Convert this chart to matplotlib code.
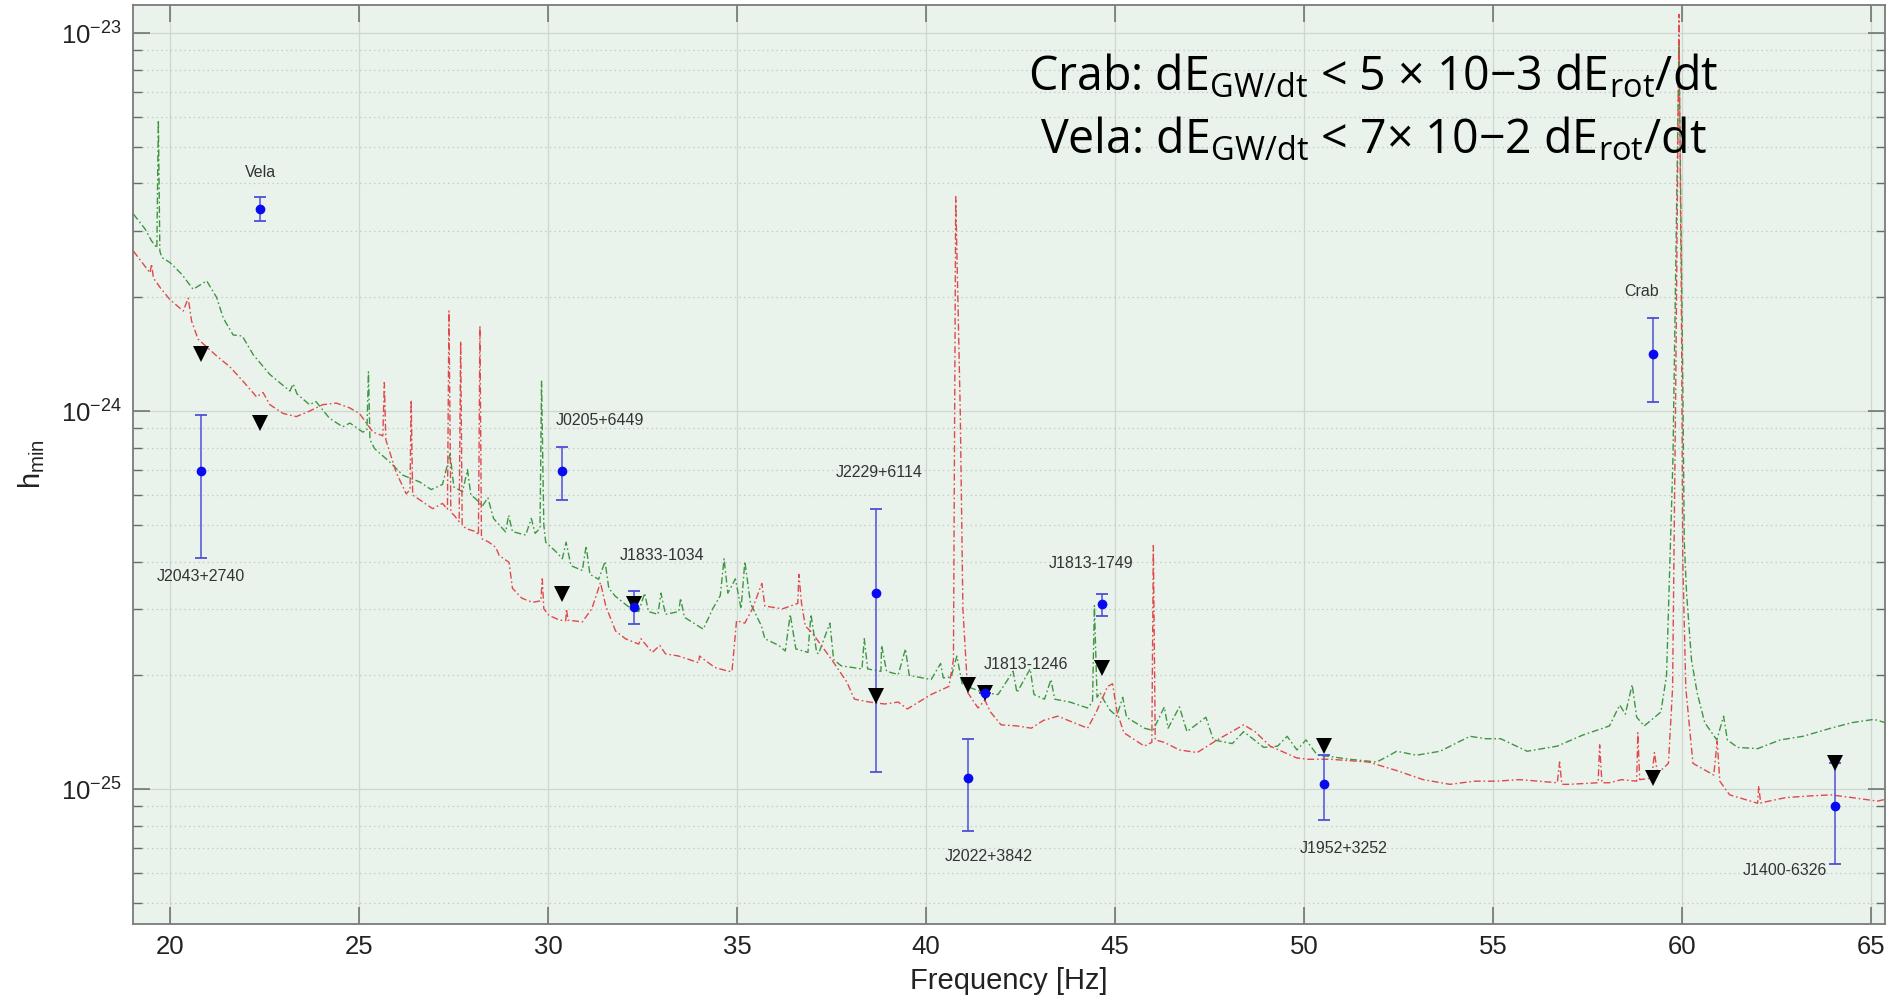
import numpy as np
import matplotlib
matplotlib.use("Agg")
import matplotlib.pyplot as plt
from matplotlib.ticker import LogLocator, FixedLocator, FuncFormatter, NullFormatter

# ---------------------------------------------------------------- data
# Sensitivity curve, detector A (green)
green_f = [19.02, 19.33, 19.50, 19.64, 19.68, 19.72, 19.77, 19.99, 20.30, 20.60,
           20.96, 21.22, 21.40, 21.66, 21.90, 22.19, 22.63, 23.16, 23.25, 23.35,
           23.68, 23.85, 24.21, 24.56, 24.75, 25.09, 25.20, 25.24, 25.28, 25.40,
           25.80, 26.15, 26.59, 26.90, 27.20, 27.40, 27.50, 27.73, 27.86, 27.95,
           28.08, 28.25, 28.40, 28.55, 28.87, 28.95, 29.05, 29.40, 29.55, 29.65,
           29.78, 29.82, 29.88, 29.93, 30.20, 30.37, 30.47, 30.60, 30.90, 31.00,
           31.10, 31.33, 31.50, 31.60, 31.77, 32.10, 32.39, 32.55, 32.65, 32.90,
           32.98, 33.10, 33.45, 33.50, 33.60, 34.10, 34.35, 34.55, 34.65, 34.75,
           34.95, 35.10, 35.20, 35.35, 35.64, 35.73, 36.10, 36.27, 36.40, 36.55,
           36.87, 36.95, 37.10, 37.15, 37.45, 37.55, 37.75, 38.30, 38.36, 38.45,
           38.80, 38.82, 38.95, 39.26, 39.45, 39.55, 40.13, 40.38, 40.45, 40.66,
           40.81, 40.95, 41.20, 41.53, 41.90, 42.30, 42.40, 42.75, 42.85, 43.13,
           43.30, 43.40, 43.80, 44.27, 44.40, 44.45, 44.52, 44.60, 44.70, 44.86,
           45.04, 45.20, 45.30, 45.77, 46.00, 46.30, 46.40, 46.70, 46.90, 47.40,
           47.60, 48.10, 48.40, 48.93, 49.30, 49.55, 49.81, 50.05, 50.35, 50.68,
           51.20, 51.92, 52.20, 52.45, 52.97, 53.60, 54.00, 54.39, 54.80, 55.20,
           55.90, 56.70, 57.37, 58.08, 58.35, 58.50, 58.68, 58.80, 59.00, 59.44,
           59.59, 59.76, 59.92, 60.02, 60.06, 60.12, 60.25, 60.40, 60.60, 60.92,
           61.10, 61.20, 61.47, 62.00, 62.60, 63.20, 63.94, 64.50, 65.08, 65.38]
green_h = [3.32e-24, 3.03e-24, 2.82e-24, 2.70e-24, 5.88e-24, 2.65e-24, 2.55e-24, 2.47e-24, 2.30e-24, 2.10e-24,
           2.21e-24, 2.00e-24, 1.76e-24, 1.59e-24, 1.58e-24, 1.41e-24, 1.25e-24, 1.13e-24, 1.18e-24, 1.11e-24,
           1.04e-24, 1.06e-24, 9.57e-25, 9.09e-25, 9.30e-25, 8.80e-25, 8.90e-25, 1.27e-24, 8.40e-25, 7.96e-25,
           7.34e-25, 6.77e-25, 6.50e-25, 6.20e-25, 6.40e-25, 7.70e-25, 6.30e-25, 6.12e-25, 7.00e-25, 6.00e-25,
           5.86e-25, 5.60e-25, 5.90e-25, 5.20e-25, 4.79e-25, 5.30e-25, 4.80e-25, 4.70e-25, 5.20e-25, 4.75e-25,
           4.90e-25, 1.20e-24, 5.00e-25, 4.50e-25, 4.25e-25, 4.07e-25, 4.50e-25, 3.90e-25, 3.79e-25, 4.40e-25,
           3.70e-25, 3.59e-25, 4.00e-25, 3.40e-25, 3.24e-25, 3.05e-25, 2.95e-25, 3.30e-25, 2.95e-25, 2.90e-25,
           3.30e-25, 2.90e-25, 2.95e-25, 3.20e-25, 2.85e-25, 2.65e-25, 3.00e-25, 3.25e-25, 4.07e-25, 3.30e-25,
           3.60e-25, 3.00e-25, 4.00e-25, 3.10e-25, 2.70e-25, 2.50e-25, 2.40e-25, 2.32e-25, 2.90e-25, 2.35e-25,
           2.30e-25, 2.90e-25, 2.30e-25, 2.28e-25, 2.75e-25, 2.20e-25, 2.12e-25, 2.08e-25, 2.50e-25, 2.08e-25,
           2.05e-25, 2.40e-25, 2.05e-25, 2.01e-25, 2.35e-25, 2.00e-25, 1.95e-25, 2.15e-25, 1.97e-25, 1.98e-25,
           2.25e-25, 1.90e-25, 1.85e-25, 1.80e-25, 1.78e-25, 2.05e-25, 1.80e-25, 2.08e-25, 1.78e-25, 1.73e-25,
           1.95e-25, 1.73e-25, 1.70e-25, 1.64e-25, 1.70e-25, 3.06e-25, 1.75e-25, 1.80e-25, 1.72e-25, 1.62e-25,
           1.56e-25, 1.75e-25, 1.55e-25, 1.45e-25, 1.43e-25, 1.65e-25, 1.45e-25, 1.65e-25, 1.42e-25, 1.55e-25,
           1.35e-25, 1.32e-25, 1.42e-25, 1.29e-25, 1.30e-25, 1.38e-25, 1.27e-25, 1.35e-25, 1.23e-25, 1.22e-25,
           1.20e-25, 1.18e-25, 1.22e-25, 1.26e-25, 1.23e-25, 1.26e-25, 1.32e-25, 1.38e-25, 1.36e-25, 1.36e-25,
           1.26e-25, 1.30e-25, 1.39e-25, 1.47e-25, 1.67e-25, 1.58e-25, 1.89e-25, 1.55e-25, 1.47e-25, 1.60e-25,
           2.00e-25, 7.50e-25, 9.40e-24, 1.20e-24, 4.50e-25, 3.30e-25, 2.20e-25, 1.80e-25, 1.50e-25, 1.35e-25,
           1.56e-25, 1.35e-25, 1.29e-25, 1.28e-25, 1.35e-25, 1.38e-25, 1.45e-25, 1.50e-25, 1.53e-25, 1.50e-25]

# Sensitivity curve, detector B (red)
red_f = [19.02, 19.46, 19.50, 19.55, 19.73, 19.99, 20.34, 20.47, 20.56, 20.73,
         21.22, 21.57, 21.92, 22.28, 22.45, 22.63, 22.98, 23.33, 23.68, 24.03,
         24.39, 24.74, 25.00, 25.36, 25.62, 25.66, 25.70, 25.97, 26.24, 26.34,
         26.37, 26.41, 26.68, 26.94, 27.20, 27.33, 27.37, 27.42, 27.51, 27.64,
         27.68, 27.72, 27.82, 28.08, 28.15, 28.19, 28.23, 28.43, 28.61, 28.70,
         28.96, 29.05, 29.30, 29.58, 29.80, 29.84, 29.88, 30.02, 30.30, 30.46,
         30.48, 30.52, 30.90, 31.15, 31.38, 31.52, 31.78, 32.04, 32.39, 32.45,
         32.75, 32.95, 33.10, 33.45, 33.98, 34.00, 34.40, 34.77, 34.86, 34.98,
         35.20, 35.40, 35.65, 35.73, 36.20, 36.60, 36.63, 36.70, 36.80, 36.97,
         37.50, 37.90, 38.10, 38.50, 38.90, 39.26, 39.50, 39.80, 40.13, 40.60,
         40.72, 40.78, 40.90, 40.97, 41.10, 41.37, 41.55, 41.70, 41.98, 42.40,
         42.78, 43.10, 43.48, 43.90, 44.27, 44.50, 44.80, 44.93, 45.05, 45.23,
         45.77, 45.97, 46.01, 46.06, 46.30, 46.70, 47.17, 47.70, 48.40, 48.70,
         49.10, 49.80, 50.10, 50.68, 51.70, 52.45, 53.15, 53.86, 54.50, 55.09,
         55.70, 56.70, 56.76, 56.82, 57.00, 57.78, 57.82, 57.88, 58.08, 58.40,
         58.80, 58.83, 58.88, 59.20, 59.27, 59.35, 59.64, 59.75, 59.83, 59.92,
         59.99, 60.02, 60.10, 60.29, 60.84, 60.93, 61.00, 61.26, 62.00, 62.03,
         62.08, 62.74, 63.40, 63.94, 64.50, 65.17, 65.38]
red_h = [2.65e-24, 2.32e-24, 2.45e-24, 2.25e-24, 2.12e-24, 1.97e-24, 1.84e-24, 1.99e-24, 1.73e-24, 1.55e-24,
         1.40e-24, 1.31e-24, 1.20e-24, 1.09e-24, 1.12e-24, 1.04e-24, 9.86e-25, 9.67e-25, 1.00e-24, 1.04e-24,
         1.05e-24, 1.02e-24, 9.86e-25, 8.80e-25, 8.60e-25, 1.19e-24, 8.40e-25, 6.90e-25, 6.04e-25, 6.20e-25,
         1.07e-24, 6.00e-25, 5.75e-25, 5.52e-25, 5.70e-25, 5.50e-25, 1.84e-24, 5.40e-25, 5.30e-25, 5.10e-25,
         1.53e-24, 5.00e-25, 4.89e-25, 4.80e-25, 4.70e-25, 1.68e-24, 4.60e-25, 4.50e-25, 4.36e-25, 4.15e-25,
         3.98e-25, 3.40e-25, 3.20e-25, 3.12e-25, 3.15e-25, 3.60e-25, 3.00e-25, 2.88e-25, 2.80e-25, 2.79e-25,
         3.00e-25, 2.80e-25, 2.77e-25, 3.00e-25, 3.52e-25, 3.05e-25, 2.62e-25, 2.50e-25, 2.42e-25, 2.50e-25,
         2.30e-25, 2.40e-25, 2.28e-25, 2.25e-25, 2.16e-25, 2.25e-25, 2.10e-25, 2.05e-25, 2.05e-25, 2.79e-25,
         2.75e-25, 3.00e-25, 3.50e-25, 3.05e-25, 3.00e-25, 3.10e-25, 3.70e-25, 3.10e-25, 2.70e-25, 2.60e-25,
         2.20e-25, 1.92e-25, 1.73e-25, 1.70e-25, 1.68e-25, 1.70e-25, 1.63e-25, 1.70e-25, 1.78e-25, 1.87e-25,
         2.20e-25, 3.69e-24, 1.00e-24, 3.00e-25, 1.80e-25, 1.64e-25, 1.72e-25, 1.60e-25, 1.48e-25, 1.47e-25,
         1.45e-25, 1.52e-25, 1.56e-25, 1.50e-25, 1.45e-25, 1.60e-25, 1.87e-25, 1.90e-25, 1.60e-25, 1.41e-25,
         1.30e-25, 1.33e-25, 4.41e-25, 1.35e-25, 1.33e-25, 1.27e-25, 1.25e-25, 1.35e-25, 1.48e-25, 1.42e-25,
         1.30e-25, 1.21e-25, 1.20e-25, 1.20e-25, 1.18e-25, 1.12e-25, 1.06e-25, 1.03e-25, 1.05e-25, 1.05e-25,
         1.06e-25, 1.04e-25, 1.18e-25, 1.03e-25, 1.03e-25, 1.04e-25, 1.31e-25, 1.04e-25, 1.04e-25, 1.06e-25,
         1.05e-25, 1.41e-25, 1.06e-25, 1.07e-25, 1.25e-25, 1.10e-25, 1.17e-25, 1.85e-25, 1.07e-24, 1.12e-23,
         1.50e-24, 4.00e-25, 1.85e-25, 1.17e-25, 1.09e-25, 1.34e-25, 1.05e-25, 9.66e-26, 9.18e-26, 1.02e-25,
         9.20e-26, 9.50e-26, 9.60e-26, 9.66e-26, 9.50e-26, 9.30e-26, 9.40e-26]

# Pulsars: GW frequency, measured strain with error range, and upper limit
pulsar_names = ["Vela", "J2043+2740", "J0205+6449", "J1833-1034", "J2229+6114",
                "J2022+3842", "J1813-1246", "J1813-1749", "J1952+3252", "Crab", "J1400-6326"]
pulsar_f = [22.36, 20.80, 30.37, 32.26, 38.67, 41.10, 41.56, 44.64, 50.52, 59.23, 64.06]
pulsar_h = [3.42e-24, 6.95e-25, 6.93e-25, 3.03e-25, 3.31e-25, 1.07e-25, 1.80e-25, 3.08e-25, 1.03e-25, 1.42e-24, 9.02e-26]
pulsar_h_hi = [3.69e-24, 9.75e-25, 8.04e-25, 3.34e-25, 5.52e-25, 1.36e-25, 1.80e-25, 3.29e-25, 1.23e-25, 1.76e-24, 1.17e-25]
pulsar_h_lo = [3.18e-24, 4.10e-25, 5.81e-25, 2.74e-25, 1.11e-25, 7.73e-26, 1.80e-25, 2.88e-25, 8.31e-26, 1.06e-24, 6.35e-26]
upper_limit = [9.29e-25, 1.42e-24, 3.28e-25, 3.08e-25, 1.76e-25, 1.89e-25, 1.80e-25, 2.09e-25, 1.30e-25, 1.07e-25, 1.17e-25]

# Label anchor points (frequency, strain)
label_xy = [(22.39, 4.28e-24), (20.80, 3.65e-25), (31.37, 9.46e-25), (33.01, 4.15e-25),
            (38.76, 6.87e-25), (41.66, 6.65e-26), (42.65, 2.14e-25), (44.37, 3.95e-25),
            (51.04, 6.97e-26), (58.92, 2.07e-24), (62.71, 6.10e-26)]

x_ticks = [20, 25, 30, 35, 40, 45, 50, 55, 60, 65]
y_ticks = [1e-25, 1e-24, 1e-23]

energy_lines = [
    r"Crab: dE$_{\mathregular{GW/dt}}$ < 5 × 10−3 dE$_{\mathregular{rot}}$/dt",
    r"Vela: dE$_{\mathregular{GW/dt}}$ < 7× 10−2 dE$_{\mathregular{rot}}$/dt",
]

# ---------------------------------------------------------------- figure
SANS = ["Liberation Sans", "DejaVu Sans"]
plt.rcParams["font.family"] = SANS

fig = plt.figure(figsize=(18.95, 10), dpi=100)
fig.patch.set_facecolor("white")
ax = fig.add_axes([0.0702, 0.076, 0.9245, 0.919])
ax.set_facecolor("#e9f3ec")

ax.set_xscale("linear")
ax.set_yscale("log")
ax.set_xlim(19.01, 65.37)
ax.set_ylim(4.40e-26, 1.186e-23)

# grid
ax.xaxis.set_major_locator(FixedLocator(x_ticks))
ax.yaxis.set_major_locator(FixedLocator(y_ticks))
ax.yaxis.set_minor_locator(LogLocator(base=10, subs=np.arange(2, 10), numticks=20))
ax.yaxis.set_minor_formatter(NullFormatter())
ax.grid(True, which="major", axis="both", color="#cdd6cf", lw=0.9, ls="-")
ax.grid(True, which="minor", axis="y", color="#c4ccc6", lw=0.9, ls=(0, (1.2, 2.5)))
ax.set_axisbelow(True)

# sensitivity curves
dashdot = (0, (5, 2, 1.2, 2))
ax.plot(green_f, green_h, color="#3f9640", lw=1.0, ls=dashdot, zorder=2)
ax.plot(red_f, red_h, color="#e2484c", lw=1.0, ls=dashdot, zorder=2)

# pulsar measurements
pf = np.array(pulsar_f)
ph = np.array(pulsar_h)
err = [ph - np.array(pulsar_h_lo), np.array(pulsar_h_hi) - ph]
ax.errorbar(pf, ph, yerr=err, fmt="none", ecolor="#4f4fd6", elinewidth=1.1,
            capsize=4.5, capthick=1.3, zorder=3)
ax.plot(pf, upper_limit, "v", color="black", ms=11, mew=0, zorder=4)
ax.plot(pf, ph, "o", color="#0a0af0", ms=7, mew=0, zorder=5)

for name, (lx, ly) in zip(pulsar_names, label_xy):
    ax.text(lx, ly, name, ha="center", va="center", fontsize=11.5, color="#333333")

# axes styling
ax.set_xticks(x_ticks)
ax.set_xticklabels([str(t) for t in x_ticks])
ax.yaxis.set_major_formatter(FuncFormatter(
    lambda v, p: r"$\mathregular{10^{%d}}$" % int(round(np.log10(v)))))
ax.tick_params(axis="both", which="major", direction="in", length=12, width=1.1,
               color="#6a6a6a", labelsize=18.5, labelcolor="#222222",
               top=True, right=True, pad=8)
ax.tick_params(axis="y", which="minor", direction="in", length=6.5, width=1.0,
               color="#6a6a6a", left=True, right=True)
for s in ax.spines.values():
    s.set_color("#7a7a7a")
    s.set_linewidth(1.3)

ax.set_xlabel("Frequency [Hz]", fontsize=21, color="#222222", labelpad=6)
ax.set_ylabel(r"h$_{\mathregular{min}}$", fontsize=21, color="#222222", labelpad=10)

# energy-loss statement
for i, line in enumerate(energy_lines):
    ax.text(0.708, 0.921 - i * 0.068, line, transform=ax.transAxes,
            ha="center", va="center", fontsize=33.5, color="black",
            family=["Open Sans", "DejaVu Sans"])

fig.savefig("out.png", dpi=100, facecolor="white")
